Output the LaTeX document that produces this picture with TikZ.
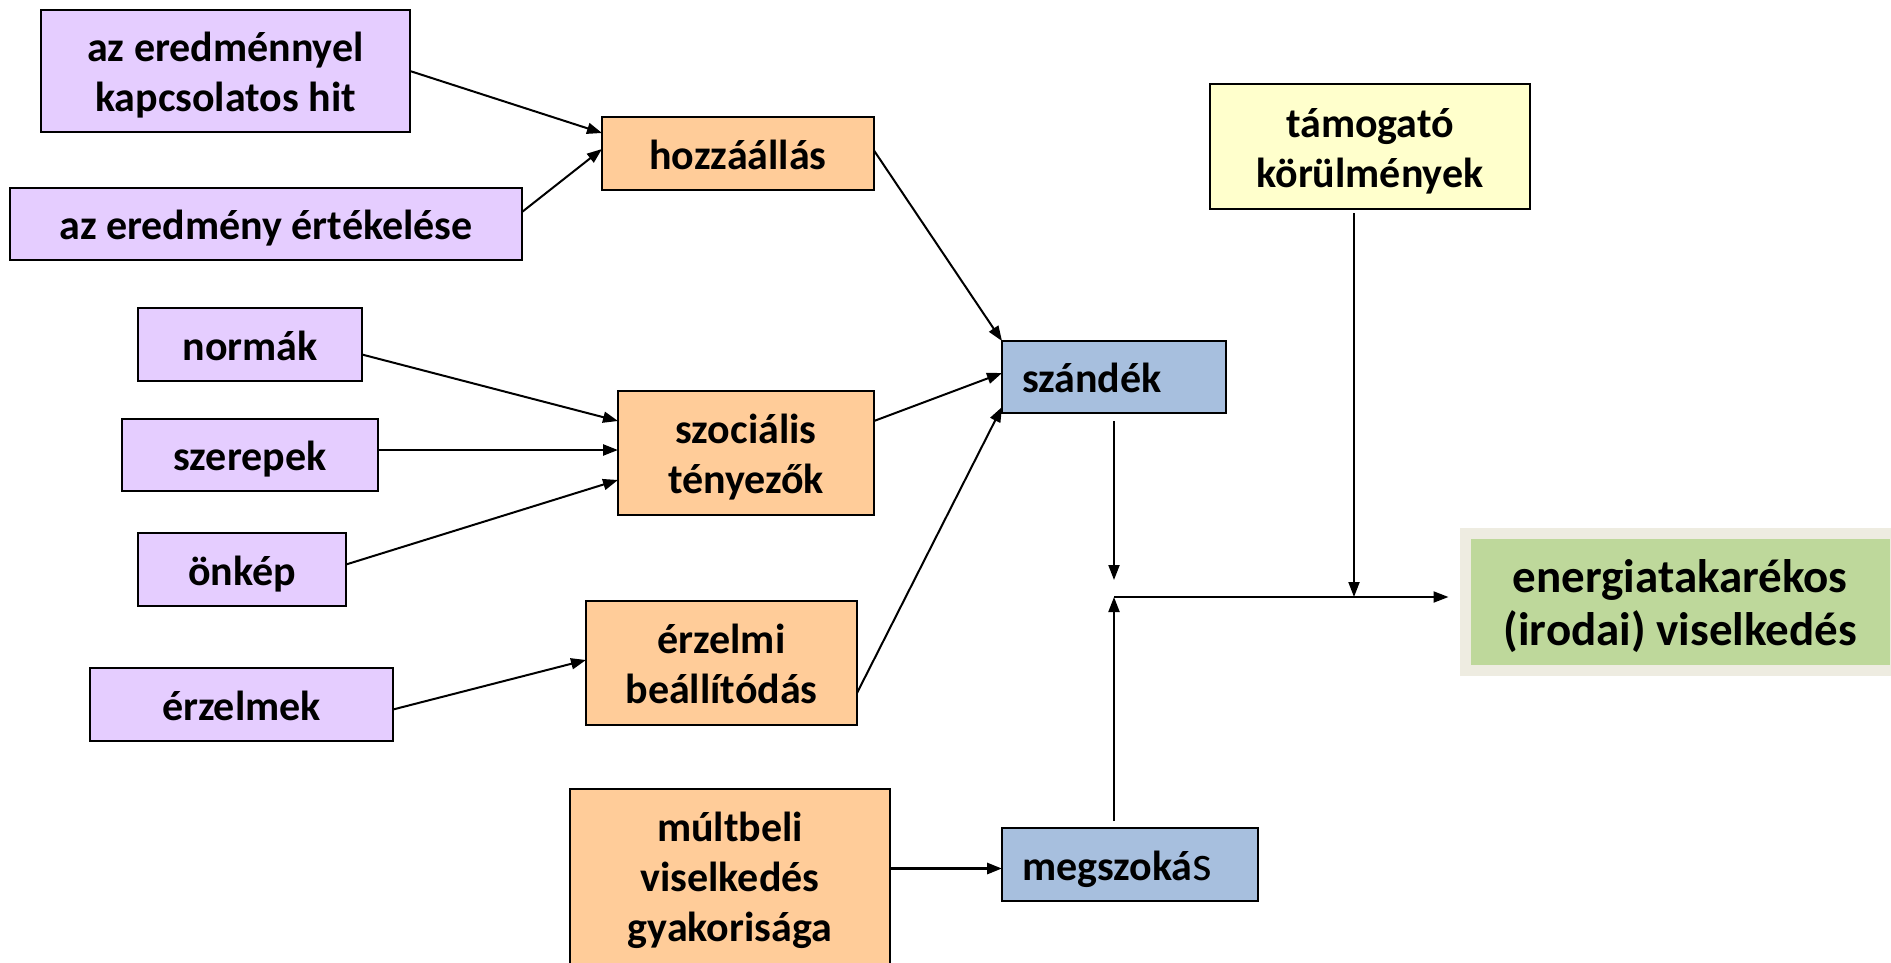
\documentclass[tikz,border=0pt]{standalone}
\usepackage{fontspec}
\setmainfont{Carlito}
\usetikzlibrary{arrows.meta,calc}
\definecolor{lav}{RGB}{229,205,255}
\definecolor{peach}{RGB}{255,204,153}
\definecolor{bluebox}{RGB}{167,191,222}
\definecolor{yel}{RGB}{255,255,204}
\definecolor{grn}{RGB}{190,216,155}
\definecolor{bgg}{RGB}{238,236,225}
\newcommand{\ls}{\rule[-0.22em]{0pt}{1.18em}}
\newcommand{\lsg}{\rule[-0.18em]{0pt}{1.1em}}
\begin{document}
\begin{tikzpicture}[x=1pt,y=-1pt,
  box/.style={draw=black,line width=2pt,inner sep=0pt,outer sep=0pt,align=center,
    font=\bfseries\fontsize{42}{50}\selectfont},
  pbox/.style={box,fill=lav},
  obox/.style={box,fill=peach},
  bbox/.style={box,fill=bluebox,inner xsep=20pt,align=left},
  ybox/.style={box,fill=yel},
  arr/.style={line width=2pt,-{Triangle[length=15pt,width=11pt]}}]
\useasboundingbox (0,0) rectangle (1891,962);
\fill[white] (0,0) rectangle (1891,962);
\clip (0,0) rectangle (1891,962);

% left column
\node[pbox,minimum width=369,minimum height=122] (hit) at (225.5,71) {\ls az eredménnyel\\\ls kapcsolatos hit};
\node[pbox,minimum width=512,minimum height=72] (ert) at (266,224) {\ls az eredmény értékelése};
\node[pbox,minimum width=224,minimum height=73] (normak) at (250,344.5) {\ls normák};
\node[pbox,minimum width=256,minimum height=72] (szerepek) at (250,455) {\ls szerepek};
\node[pbox,minimum width=208,minimum height=73] (onkep) at (242,569.5) {\ls önkép};
\node[pbox,minimum width=303,minimum height=73] (erzelmek) at (241.5,704.5) {\ls érzelmek};

% middle column
\node[obox,minimum width=272,minimum height=73] (hozza) at (738,153.5) {\ls hozzáállás};
\node[obox,minimum width=256,minimum height=124] (szoc) at (746,453) {\ls szociális\\\ls tényezők};
\node[obox,minimum width=271,minimum height=124] (erzelmi) at (721.5,663) {\ls érzelmi\\\ls beállítódás};
\node[obox,minimum width=320,minimum height=191] (multbeli) at (730,884.5) {\ls múltbeli\\\ls viselkedés\\\ls gyakorisága\rule[-27.24pt]{0pt}{1pt}};

% right part
\node[bbox,text width=184pt,minimum height=72] (szandek) at (1114,377) {\ls szándék};
\node[bbox,text width=216pt,minimum height=73] (megszokas) at (1130,864.5) {\ls megszoká{\mdseries\fontsize{50}{50}\selectfont s}};
\node[ybox,minimum width=320,minimum height=125] (tamogato) at (1370,146.5) {\ls támogató\\\ls körülmények};
\node[fill=grn,draw=bgg,line width=11pt,inner sep=0pt,outer sep=0pt,
  minimum width=429.5,minimum height=137,align=center,
  font=\bfseries\fontsize{47}{53}\selectfont] (energia) at (1680.25,602)
  {\lsg energiatakarékos\\\lsg (irodai) viselkedés};

% connectors into hozzaallas
\draw[arr] (hit.east) -- ($(hozza.north west)+(0,16)$);
\draw[arr] ($(ert.north east)+(0,24)$) -- ($(hozza.north west)+(0,32)$);

% connectors into szocialis
\draw[arr] ($(normak.east)+(0,10)$) -- ($(szoc.north west)+(0,30)$);
\coordinate (s1) at ($(szerepek.east)+(0,-5)$);
\draw[arr,line width=2.4pt] (s1) -- (s1 -| szoc.west);
\draw[arr] ($(onkep.east)+(0,-5)$) -- ($(szoc.south west)+(0,-35)$);

% erzelmek -> erzelmi
\draw[arr] ($(erzelmek.east)+(0,5)$) -- ($(erzelmi.west)+(0,-3)$);

% into szandek
\draw[arr] ($(hozza.east)+(0,-3)$) -- (szandek.north west);
\draw[arr] ($(szoc.north east)+(0,30)$) -- ($(szandek.west)+(0,-4)$);
\draw[arr] ($(erzelmi.south east)+(0,-32)$) -- ($(szandek.south west)+(0,-6)$);

% multbeli -> megszokas
\coordinate (m1) at ($(megszokas.west)+(0,4)$);
\draw[arr,line width=3pt] (m1 -| multbeli.east) -- (m1);

% junction
\coordinate (j) at ($(szandek.south)+(0,184)$);
\coordinate (jtop) at ($(j)+(0,-17)$);
\draw[arr] ($(szandek.south)+(0,8)$) -- (jtop);
\coordinate (mtop) at ($(megszokas.north -| j)+(0,-7)$);
\draw[arr] (mtop) -- (j);
\coordinate (jend) at ($(j -| energia.west)+(-17,0)$);
\draw[arr] (j) -- (jend);
\coordinate (t1) at ($(tamogato.south)+(-16,4)$);
\draw[arr] (t1) -- (t1 |- j);
\end{tikzpicture}
\end{document}
